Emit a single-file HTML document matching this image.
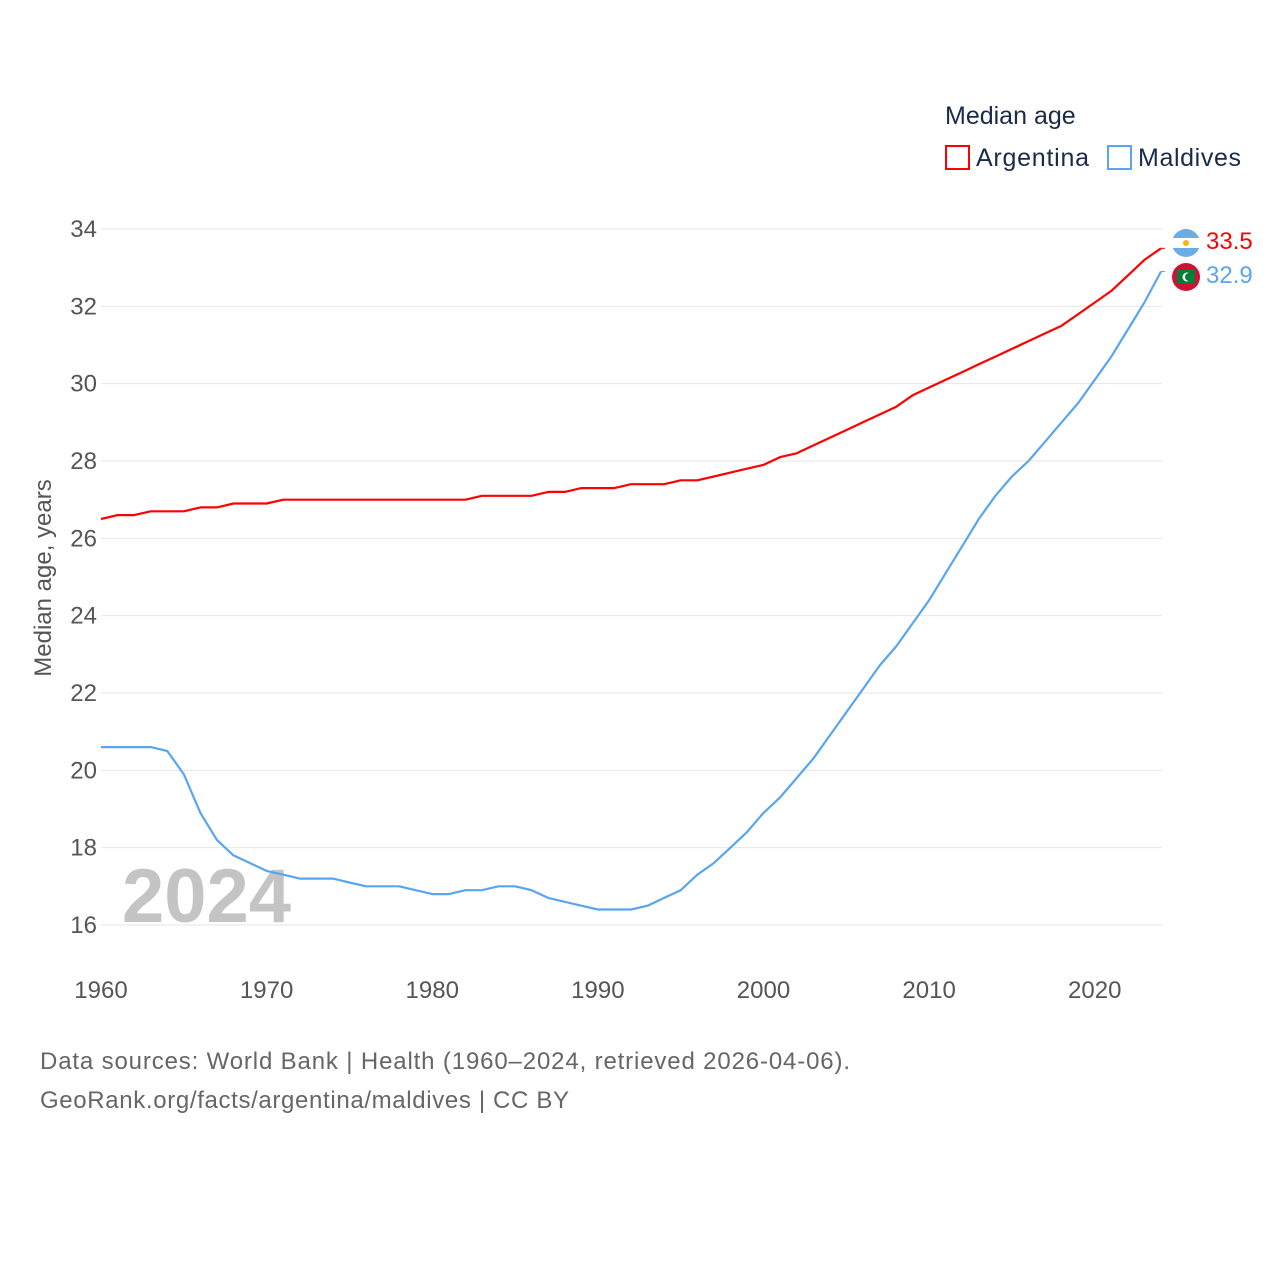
<!DOCTYPE html>
<html><head><meta charset="utf-8">
<style>
html,body{margin:0;padding:0;background:#fff;}
body{width:1280px;height:1280px;overflow:hidden;font-family:"Liberation Sans",sans-serif;}
</style></head>
<body>
<svg id="chart" width="1280" height="1280" xmlns="http://www.w3.org/2000/svg">
  <g id="grid"></g>
  <g id="yticks"></g>
  <g id="xticks"></g>
  <text x="122" y="922" font-size="76" font-weight="bold" fill="#c4c4c4">2024</text>
  <text transform="translate(51,578) rotate(-90)" text-anchor="middle" font-size="24" fill="#555">Median age, years</text>
  <g id="series"></g>
  <g>
    <text x="945" y="124" font-size="25" fill="#1a2b4a">Median age</text>
    <rect x="946" y="146" width="23" height="23" fill="none" stroke="#ff0000" stroke-width="2"/>
    <text x="976" y="166" font-size="25" fill="#1a2b4a" textLength="113">Argentina</text>
    <rect x="1108" y="146" width="23" height="23" fill="none" stroke="#5aa5ef" stroke-width="2"/>
    <text x="1138" y="166" font-size="25" fill="#1a2b4a" textLength="103">Maldives</text>
  </g>
  <defs><clipPath id="cA"><circle cx="1186" cy="243" r="14"/></clipPath></defs>
  <g>
    <circle cx="1186" cy="243" r="14" fill="#fff"/>
    <rect x="1172" y="229" width="28" height="9" fill="#6cace4" clip-path="url(#cA)"/>
    <rect x="1172" y="248" width="28" height="9" fill="#6cace4" clip-path="url(#cA)"/>
    <circle cx="1186" cy="243" r="3" fill="#f6b40e"/>
  </g>
  <g>
    <circle cx="1186" cy="277" r="14" fill="#d21034"/>
    <rect x="1177" y="270" width="18" height="14" fill="#007e3a"/>
    <circle cx="1187" cy="277" r="4.5" fill="#fff"/>
    <circle cx="1189" cy="277" r="4" fill="#007e3a"/>
  </g>
  <text x="1206" y="249" font-size="24" fill="#ff0000">33.5</text>
  <text x="1206" y="283" font-size="24" fill="#5aa5ef">32.9</text>
  <text x="40" y="1069" font-size="24" fill="#666" textLength="810">Data sources: World Bank | Health (1960–2024, retrieved 2026-04-06).</text>
  <text x="40" y="1108" font-size="24" fill="#666" textLength="529">GeoRank.org/facts/argentina/maldives | CC BY</text>
</svg>
<script>
const years = [];
for (let y = 1960; y <= 2024; y++) years.push(y);
const argentina = [26.5,26.6,26.6,26.7,26.7,26.7,26.8,26.8,26.9,26.9,26.9,27.0,27.0,27.0,27.0,27.0,27.0,27.0,27.0,27.0,27.0,27.0,27.0,27.1,27.1,27.1,27.1,27.2,27.2,27.3,27.3,27.3,27.4,27.4,27.4,27.5,27.5,27.6,27.7,27.8,27.9,28.1,28.2,28.4,28.6,28.8,29.0,29.2,29.4,29.7,29.9,30.1,30.3,30.5,30.7,30.9,31.1,31.3,31.5,31.8,32.1,32.4,32.8,33.2,33.5];
const maldives = [20.6,20.6,20.6,20.6,20.5,19.9,18.9,18.2,17.8,17.6,17.4,17.3,17.2,17.2,17.2,17.1,17.0,17.0,17.0,16.9,16.8,16.8,16.9,16.9,17.0,17.0,16.9,16.7,16.6,16.5,16.4,16.4,16.4,16.5,16.7,16.9,17.3,17.6,18.0,18.4,18.9,19.3,19.8,20.3,20.9,21.5,22.1,22.7,23.2,23.8,24.4,25.1,25.8,26.5,27.1,27.6,28.0,28.5,29.0,29.5,30.1,30.7,31.4,32.1,32.9];
const yTicks = [16,18,20,22,24,26,28,30,32,34];
const xTicks = [1960,1970,1980,1990,2000,2010,2020];

const NS = "http://www.w3.org/2000/svg";
const xs = v => 101 + (v - 1960) * (1161 - 101) / 64;
const ys = v => 925 - (v - 16) * (925 - 229) / 18;
function mk(tag, attrs, parent) {
  const e = document.createElementNS(NS, tag);
  for (const k in attrs) e.setAttribute(k, attrs[k]);
  parent.appendChild(e);
  return e;
}
const grid = document.getElementById('grid');
const yg = document.getElementById('yticks');
const xg = document.getElementById('xticks');
yTicks.forEach(t => {
  const l = mk('line', {x1: 101, x2: 1162, y1: ys(t), y2: ys(t), stroke: '#e6e6e6', 'stroke-width': 1}, grid);
  
  
  const tx = mk('text', {x: 97, y: ys(t) + 8, 'text-anchor': 'end', 'font-size': 24, fill: '#555'}, yg);
  tx.textContent = t;
  
  
});
xTicks.forEach(t => {
  const tx = mk('text', {x: xs(t), y: 998, 'text-anchor': 'middle', 'font-size': 24, fill: '#555'}, xg);
  tx.textContent = t;
  
  
});
const sg = document.getElementById('series');
function line(vals, color, name) {
  const d = vals.map((v, i) => (i ? 'L' : 'M') + xs(years[i]).toFixed(1) + ',' + ys(v).toFixed(1)).join('');
  const p = mk('path', {d: d, fill: 'none', stroke: color, 'stroke-width': 2.2, 'stroke-linejoin': 'round'}, sg);
  
  
  const lv = vals[vals.length - 1];
  const c = mk('path', {d: 'M' + xs(2024) + ',' + ys(lv) + 'h4', stroke: color, 'stroke-width': 1, fill: 'none'}, sg);
  
  
}
line(argentina, '#ff0000', 'line-argentina');
line(maldives, '#5aa5ef', 'line-maldives');
</script>
</body></html>
